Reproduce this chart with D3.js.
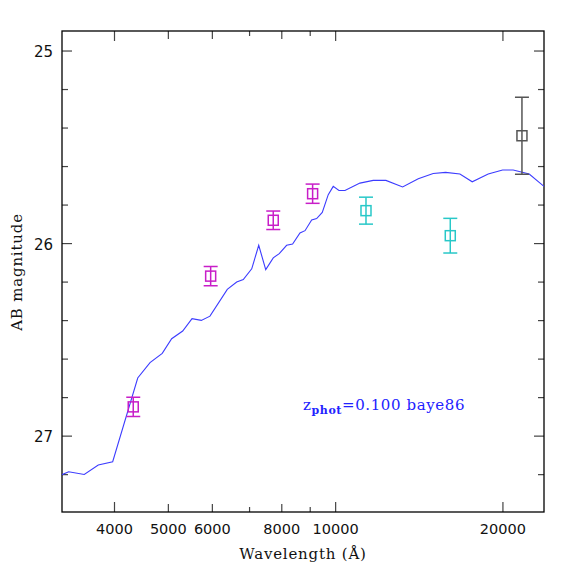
<!DOCTYPE html>
<html>
<head>
<meta charset="utf-8">
<script src="https://cdn.jsdelivr.net/npm/d3@7/dist/d3.min.js"></script>
<style>
  body { margin: 0; background: #fff; }
  svg { display: block; }
</style>
</head>
<body>
<div id="sed-vis"></div>
<script>
// model template (wavelength in A, AB mag)
const modelWave = [3218, 3308, 3529, 3740, 3970, 4404, 4634, 4875, 5069, 5306,
  5515, 5731, 5941, 6383, 6636, 6820, 7063, 7271, 7485, 7722, 7917, 8162, 8367,
  8626, 8808, 9054, 9243, 9461, 9698, 9901, 10137, 10393, 11059, 11685, 12316,
  13198, 14082, 14981, 15773, 16735, 17610, 18817, 19972, 20866, 22302, 23710];
const modelMag = [27.200, 27.185, 27.199, 27.150, 27.133, 26.698, 26.618, 26.570,
  26.494, 26.454, 26.390, 26.399, 26.377, 26.238, 26.200, 26.187, 26.131, 26.009,
  26.135, 26.074, 26.052, 26.009, 26.002, 25.945, 25.933, 25.877, 25.870, 25.838,
  25.746, 25.703, 25.724, 25.724, 25.686, 25.672, 25.672, 25.706, 25.663, 25.636,
  25.630, 25.639, 25.679, 25.639, 25.618, 25.618, 25.639, 25.703];

// observed photometry
const obsWave = [4323, 5958, 7722, 9090, 11340, 16080, 21640];
const obsMag  = [26.848, 26.169, 25.879, 25.741, 25.829, 25.959, 25.440];
const obsErr  = [0.050, 0.050, 0.048, 0.050, 0.070, 0.090, 0.200];
const obsColor = ["#c81ec8", "#c81ec8", "#c81ec8", "#c81ec8", "#28c8c8", "#28c8c8", "#555555"];

const xMajor = [4000, 10000, 20000];
const xMid = [5000, 6000, 8000];
const xMinor = [7000, 9000];
const xLabels = [4000, 5000, 6000, 8000, 10000, 20000];
const yLabels = [25, 26, 27];

(function() {
    const width = 574, height = 574;
    const left = 62, right = 544, top = 31, bottom = 512;

    const x = d3.scaleLog().domain([3218, 23710]).range([left, right]);
    const y = d3.scaleLinear().domain([24.896, 27.394]).range([top, bottom]);

    const svg = d3.select("#sed-vis").append("svg")
        .attr("width", width)
        .attr("height", height);

    svg.append("defs").append("clipPath").attr("id", "plotclip")
        .append("rect")
        .attr("x", left).attr("y", top)
        .attr("width", right - left).attr("height", bottom - top);

    // ticks
    const tickCol = "#444";
    const ticks = svg.append("g").attr("stroke", tickCol).attr("stroke-width", 1.2);
    const xt = [].concat(
        xMajor.map(v => ({v: v, len: 10})),
        xMid.map(v => ({v: v, len: 8})),
        xMinor.map(v => ({v: v, len: 5})));
    xt.forEach(t => {
        ticks.append("line").attr("x1", x(t.v)).attr("x2", x(t.v))
            .attr("y1", bottom).attr("y2", bottom - t.len);
        ticks.append("line").attr("x1", x(t.v)).attr("x2", x(t.v))
            .attr("y1", top).attr("y2", top + t.len);
    });
    const yt = d3.range(25, 27.4, 0.2).map(v => ({v: v, len: Math.abs(v - Math.round(v)) < 0.01 ? 10 : 6}));
    yt.forEach(t => {
        ticks.append("line").attr("x1", left).attr("x2", left + t.len)
            .attr("y1", y(t.v)).attr("y2", y(t.v));
        ticks.append("line").attr("x1", right).attr("x2", right - t.len)
            .attr("y1", y(t.v)).attr("y2", y(t.v));
    });

    // frame
    svg.append("rect")
        .attr("x", left).attr("y", top)
        .attr("width", right - left).attr("height", bottom - top)
        .attr("fill", "none").attr("stroke", "#000").attr("stroke-width", 1.3);

    // tick labels
    svg.append("g").selectAll("text").data(xLabels).enter().append("text")
        .attr("x", d => x(d)).attr("y", bottom + 22)
        .attr("text-anchor", "middle")
        .attr("font-family", "DejaVu Sans").attr("font-size", 14.5)
        .attr("fill", "#111")
        .text(d => d);
    svg.append("g").selectAll("text").data(yLabels).enter().append("text")
        .attr("x", 53).attr("y", d => y(d) + 6)
        .attr("text-anchor", "end")
        .attr("font-family", "DejaVu Sans").attr("font-size", 15)
        .attr("fill", "#111")
        .text(d => d);

    // axis titles
    svg.append("text")
        .attr("x", (left + right) / 2).attr("y", 559)
        .attr("text-anchor", "middle")
        .attr("font-family", "DejaVu Serif").attr("font-size", 15)
        .attr("letter-spacing", 0.8)
        .attr("fill", "#111")
        .text("Wavelength (Å)");
    svg.append("text")
        .attr("transform", "translate(22,272) rotate(-90)")
        .attr("text-anchor", "middle")
        .attr("font-family", "DejaVu Serif").attr("font-size", 15)
        .attr("letter-spacing", 0.8)
        .attr("fill", "#111")
        .text("AB magnitude");

    // model curve
    const line = d3.line().x(d => x(d[0])).y(d => y(d[1]));
    svg.append("path")
        .datum(d3.zip(modelWave, modelMag))
        .attr("clip-path", "url(#plotclip)")
        .attr("d", line)
        .attr("fill", "none")
        .attr("stroke", "#3c3cff")
        .attr("stroke-width", 1.1);

    // photometry points
    const obs = obsWave.map((w, i) => ({w: w, m: obsMag[i], e: obsErr[i], c: obsColor[i]}));
    const pts = svg.append("g").selectAll("g").data(obs).enter().append("g")
        .attr("stroke", d => d.c).attr("stroke-width", 1.5).attr("fill", "none");
    pts.append("line")
        .attr("x1", d => x(d.w)).attr("x2", d => x(d.w))
        .attr("y1", d => y(d.m - d.e)).attr("y2", d => y(d.m + d.e));
    pts.append("line")
        .attr("x1", d => x(d.w) - 7).attr("x2", d => x(d.w) + 7)
        .attr("y1", d => y(d.m - d.e)).attr("y2", d => y(d.m - d.e));
    pts.append("line")
        .attr("x1", d => x(d.w) - 7).attr("x2", d => x(d.w) + 7)
        .attr("y1", d => y(d.m + d.e)).attr("y2", d => y(d.m + d.e));
    pts.append("rect")
        .attr("x", d => x(d.w) - 5).attr("y", d => y(d.m) - 5)
        .attr("width", 10).attr("height", 10);

    // annotation
    const note = svg.append("text")
        .attr("x", 303).attr("y", 410)
        .attr("font-family", "DejaVu Serif").attr("font-size", 15)
        .attr("letter-spacing", 0.6)
        .attr("fill", "#2222ff");
    note.append("tspan").text("z");
    note.append("tspan").attr("font-size", 11).attr("font-weight", "bold").attr("dy", 4).text("phot");
    note.append("tspan").attr("dy", -4).text("=0.100 baye86");
})();
</script>
</body>
</html>
